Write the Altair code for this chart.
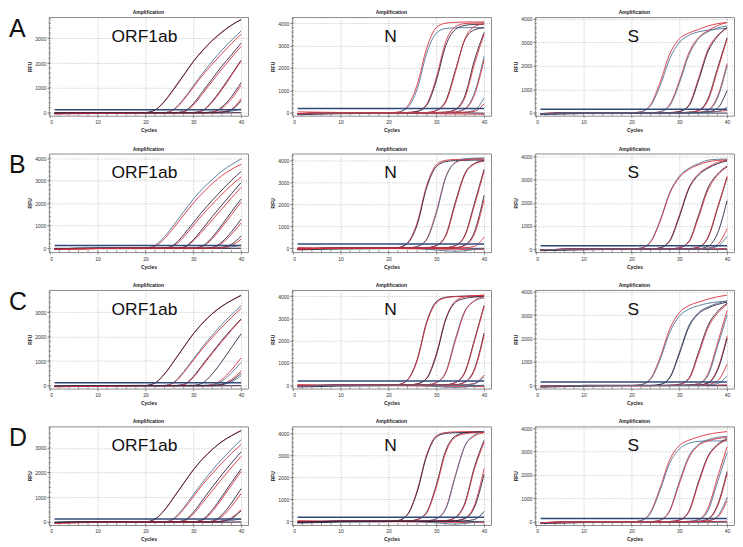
import altair as alt
import pandas as pd

# ---------------- data ----------------
CYCLES = [1, 10, 20, 22, 24, 26, 28, 30, 32, 34, 36, 38, 40]
ROW_LABELS = ["A", "B", "C", "D"]
GENES = ["ORF1ab", "N", "S"]
X_TICKS = [0, 10, 20, 30, 40]
Y_TICKS = [0, 1000, 2000, 3000, 4000]
MINOR_X = list(range(0, 42, 2))
MINOR_Y = list(range(-200, 4400, 200))

COLOR_KEYS = ["r", "d", "b", "p"]
COLOR_VALUES = ["#d8303e", "#2f2541", "#4f7496", "#e3909c"]
THRESH_COLOR = "#2f4a78"

THRESHOLDS = {"ORF1ab": [120, 120, 120, 120], "N": [185, 190, 190, 180], "S": [150, 150, 150, 150]}
Y_DOMAINS = {
    "ORF1ab": [(-120, 3850), (-170, 4200), (-120, 3900), (-120, 3870)],
    "N": [(-130, 4270), (-180, 4300), (-150, 4280), (-170, 4340)],
    "S": [(-120, 4080), (-130, 4140), (-130, 4070), (-130, 4070)],
}

ORF1AB_A = [
    ("p", [-70, -30, -10, -10, -5, 0, 0, -5, -10, -10, -5, 0, 10]),
    ("d", [-20, -20, -15, -15, -15, -15, -15, -15, -15, -10, -10, -5, 0]),
    ("b", [0, 0, 0, 0, 5, 10, 10, 10, 15, 20, 30, 60, 150]),
    ("r", [-40, -10, 0, 100, 450, 950, 1500, 2050, 2500, 2900, 3230, 3520, 3760]),
    ("d", [-20, 0, 10, 110, 470, 980, 1520, 2060, 2520, 2920, 3250, 3530, 3740]),
    ("b", [-10, 0, 0, 0, 10, 150, 560, 1080, 1600, 2080, 2520, 2920, 3290]),
    ("r", [-30, -10, 0, 0, 0, 120, 520, 1020, 1520, 1960, 2380, 2780, 3160]),
    ("d", [-20, 0, 0, 0, 0, 0, 50, 360, 860, 1370, 1880, 2330, 2800]),
    ("r", [-30, -10, 0, 0, 0, 0, 30, 300, 780, 1270, 1760, 2220, 2670]),
    ("d", [-20, 0, 0, 0, 0, 0, 0, 10, 100, 470, 980, 1540, 2110]),
    ("r", [-30, -10, 0, 0, 0, 0, 0, 0, 80, 430, 930, 1500, 2080]),
    ("d", [-20, 0, 0, 0, 0, 0, 0, 0, 0, 30, 230, 650, 1210]),
    ("r", [-30, -10, 0, 0, 0, 0, 0, 0, 0, 20, 180, 560, 1100]),
    ("r", [-40, -10, 0, 0, 0, 0, 0, 0, 0, 0, 30, 140, 560]),
    ("d", [-20, 0, 0, 0, 0, 0, 0, 0, 0, 0, 20, 110, 480]),
]
ORF1AB_B = [
    ("p", [-60, -20, -10, -10, -5, 0, 0, -5, -10, -10, -5, 0, 10]),
    ("d", [-20, -15, -15, -15, -15, -15, -15, -15, -15, -10, -10, -5, 0]),
    ("b", [0, 0, 0, 0, 5, 10, 10, 10, 15, 20, 30, 60, 140]),
    ("b", [-20, 0, 10, 130, 520, 1050, 1620, 2170, 2650, 3050, 3420, 3710, 3960]),
    ("r", [-40, -10, 0, 90, 430, 930, 1470, 2000, 2460, 2870, 3220, 3500, 3720]),
    ("d", [-20, 0, 0, 0, 10, 160, 600, 1130, 1650, 2130, 2580, 3010, 3400]),
    ("r", [-30, -10, 0, 0, 0, 120, 500, 1000, 1500, 1960, 2390, 2800, 3160]),
    ("d", [-20, 0, 0, 0, 0, 0, 50, 380, 880, 1410, 1920, 2420, 2910]),
    ("r", [-30, -10, 0, 0, 0, 0, 30, 320, 780, 1260, 1750, 2230, 2700]),
    ("d", [-20, 0, 0, 0, 0, 0, 0, 10, 110, 500, 1040, 1620, 2180]),
    ("r", [-30, -10, 0, 0, 0, 0, 0, 0, 80, 430, 940, 1490, 2040]),
    ("d", [-20, 0, 0, 0, 0, 0, 0, 0, 0, 40, 280, 730, 1290]),
    ("r", [-30, -10, 0, 0, 0, 0, 0, 0, 0, 20, 220, 620, 1120]),
    ("d", [-20, 0, 0, 0, 0, 0, 0, 0, 0, 0, 40, 180, 535]),
    ("r", [-40, -10, 0, 0, 0, 0, 0, 0, 0, 0, 20, 120, 400]),
]
ORF1AB_C = [
    ("p", [-60, -20, -10, -10, -5, 0, 0, -5, -10, -10, -5, 0, 10]),
    ("d", [-20, -15, -15, -15, -15, -15, -15, -15, -15, -10, -10, -5, 0]),
    ("b", [0, 0, 0, 0, 5, 10, 10, 10, 15, 20, 40, 150, 400]),
    ("r", [-40, -10, 0, 100, 470, 1000, 1560, 2100, 2550, 2930, 3230, 3480, 3690]),
    ("d", [-20, 0, 10, 110, 480, 1010, 1570, 2110, 2560, 2940, 3240, 3470, 3670]),
    ("b", [-10, 0, 0, 0, 10, 150, 570, 1080, 1590, 2060, 2500, 2890, 3260]),
    ("r", [-30, -10, 0, 0, 0, 120, 530, 1030, 1520, 1970, 2390, 2780, 3150]),
    ("d", [-20, 0, 0, 0, 0, 0, 50, 370, 870, 1360, 1850, 2300, 2720]),
    ("r", [-30, -10, 0, 0, 0, 0, 30, 330, 820, 1320, 1800, 2260, 2690]),
    ("d", [-20, 0, 0, 0, 0, 0, 0, 10, 110, 480, 990, 1550, 2110]),
    ("r", [-30, -10, 0, 0, 0, 0, 0, 0, 0, 40, 250, 640, 1130]),
    ("b", [-10, 0, 0, 0, 0, 0, 0, 0, 0, 20, 180, 520, 950]),
    ("r", [-40, -10, 0, 0, 0, 0, 0, 0, 0, 0, 60, 250, 600]),
    ("d", [-20, 0, 0, 0, 0, 0, 0, 0, 0, 0, 40, 200, 500]),
]
ORF1AB_D = [
    ("p", [-60, -20, -10, -10, -5, 0, 0, -5, -10, -10, -5, 0, 10]),
    ("d", [-20, -15, -15, -15, -15, -15, -15, -15, -15, -10, -10, -5, 0]),
    ("b", [0, 0, 0, 0, 5, 10, 10, 10, 15, 20, 30, 60, 130]),
    ("r", [-40, -10, 0, 110, 480, 1010, 1560, 2100, 2560, 2940, 3260, 3500, 3710]),
    ("d", [-20, 0, 10, 120, 490, 1020, 1570, 2110, 2560, 2940, 3250, 3490, 3690]),
    ("b", [-10, 0, 0, 0, 10, 160, 580, 1100, 1620, 2100, 2540, 2950, 3330]),
    ("r", [-30, -10, 0, 0, 0, 120, 520, 1020, 1520, 1970, 2390, 2780, 3140]),
    ("d", [-20, 0, 0, 0, 0, 0, 60, 390, 900, 1420, 1920, 2390, 2840]),
    ("r", [-30, -10, 0, 0, 0, 0, 30, 320, 790, 1270, 1750, 2210, 2650]),
    ("d", [-20, 0, 0, 0, 0, 0, 0, 10, 110, 500, 1030, 1600, 2150]),
    ("r", [-30, -10, 0, 0, 0, 0, 0, 0, 80, 430, 940, 1490, 2050]),
    ("d", [-20, 0, 0, 0, 0, 0, 0, 0, 0, 40, 290, 770, 1350]),
    ("r", [-30, -10, 0, 0, 0, 0, 0, 0, 0, 20, 220, 630, 1150]),
    ("r", [-40, -10, 0, 0, 0, 0, 0, 0, 0, 0, 40, 170, 500]),
    ("d", [-20, 0, 0, 0, 0, 0, 0, 0, 0, 0, 30, 140, 450]),
]

N_A = [
    ("r", [40, 10, -20, -20, -30, -30, -40, -40, -50, -50, -60, -60, -70]),
    ("d", [-90, -40, -20, -10, -10, -10, 0, 0, 0, 0, 0, -10, -20]),
    ("r", [-40, 0, 0, 30, 300, 1250, 2880, 3800, 4000, 4040, 4050, 4050, 4050]),
    ("b", [-60, -10, 0, 20, 230, 1050, 2650, 3550, 3760, 3790, 3800, 3800, 3800]),
    ("r", [-40, 0, 0, 0, 10, 70, 380, 1560, 3180, 3840, 3980, 4000, 4010]),
    ("d", [-60, -10, 0, 0, 10, 55, 330, 1420, 3000, 3720, 3900, 3940, 3950]),
    ("d", [-50, 0, 0, 0, 0, 0, 10, 100, 540, 1900, 3260, 3700, 3790]),
    ("r", [-40, 0, 0, 0, 0, 0, 10, 90, 480, 1820, 3300, 3850, 3970]),
    ("d", [-50, 0, 0, 0, 0, 0, 0, 10, 30, 150, 770, 2360, 3580]),
    ("r", [-40, 0, 0, 0, 0, 0, 0, 10, 25, 130, 670, 2180, 3500]),
    ("b", [-50, 0, 0, 0, 0, 0, 0, 0, 10, 40, 180, 900, 2520]),
    ("r", [-40, 0, 0, 0, 0, 0, 0, 0, 10, 30, 160, 800, 2360]),
    ("b", [-50, 0, 0, 0, 0, 0, 0, 0, 0, 10, 30, 120, 660]),
    ("r", [-40, 0, 0, 0, 0, 0, 0, 0, 0, 0, 20, 60, 400]),
]
N_B = [
    ("r", [30, 0, -20, -20, -30, -30, -40, -40, -50, -50, -60, -60, -60]),
    ("d", [-80, -40, -20, -10, -10, -10, 0, 0, 0, 0, 0, -10, -10]),
    ("b", [-20, 0, 0, 0, 0, -20, -50, -90, -120, -140, -120, -60, 0]),
    ("r", [-40, 0, 0, 25, 250, 1150, 2850, 3780, 3990, 4030, 4040, 4050, 4050]),
    ("d", [-60, -10, 0, 20, 220, 1050, 2750, 3700, 3930, 3980, 3990, 4000, 4000]),
    ("r", [-40, 0, 0, 0, 10, 80, 420, 1650, 3250, 3880, 4020, 4050, 4060]),
    ("b", [-60, -10, 0, 0, 10, 70, 380, 1560, 3200, 3900, 4060, 4090, 4100]),
    ("d", [-50, 0, 0, 0, 0, 0, 20, 120, 600, 2100, 3400, 3850, 3980]),
    ("r", [-40, 0, 0, 0, 0, 0, 15, 110, 550, 2000, 3350, 3820, 3950]),
    ("d", [-50, 0, 0, 0, 0, 0, 0, 0, 20, 120, 600, 2050, 3580]),
    ("r", [-40, 0, 0, 0, 0, 0, 0, 0, 15, 110, 560, 1950, 3500]),
    ("d", [-50, 0, 0, 0, 0, 0, 0, 0, 0, 20, 150, 750, 2400]),
    ("r", [-40, 0, 0, 0, 0, 0, 0, 0, 0, 15, 120, 650, 2200]),
    ("r", [-40, 0, 0, 0, 0, 0, 0, 0, 0, 0, 20, 80, 500]),
]
N_C = [
    ("r", [30, 0, -20, -20, -30, -30, -40, -40, -50, -50, -60, -60, -60]),
    ("d", [-80, -40, -20, -10, -10, -10, 0, 0, 0, 0, 0, -10, -10]),
    ("b", [-20, 0, 0, 0, 0, -10, -30, -60, -90, -100, -80, -40, 0]),
    ("d", [-60, -10, 0, 25, 250, 1150, 2850, 3750, 3950, 3990, 4000, 4000, 4000]),
    ("r", [-40, 0, 0, 20, 230, 1100, 2780, 3700, 3930, 3980, 4000, 4020, 4040]),
    ("r", [-40, 0, 0, 0, 10, 60, 320, 1400, 3000, 3780, 3970, 4020, 4050]),
    ("d", [-60, -10, 0, 0, 10, 55, 300, 1330, 2950, 3720, 3900, 3960, 3980]),
    ("b", [-50, 0, 0, 0, 0, 0, 20, 120, 600, 2100, 3350, 3780, 3920]),
    ("r", [-40, 0, 0, 0, 0, 0, 15, 110, 560, 2000, 3300, 3800, 3980]),
    ("d", [-50, 0, 0, 0, 0, 0, 0, 0, 20, 120, 600, 2050, 3580]),
    ("r", [-40, 0, 0, 0, 0, 0, 0, 0, 15, 110, 570, 1980, 3550]),
    ("d", [-50, 0, 0, 0, 0, 0, 0, 0, 0, 20, 150, 730, 2350]),
    ("r", [-40, 0, 0, 0, 0, 0, 0, 0, 0, 15, 130, 680, 2250]),
    ("r", [-40, 0, 0, 0, 0, 0, 0, 0, 0, 0, 20, 80, 450]),
    ("b", [-50, 0, 0, 0, 0, 0, 0, 0, 0, 0, 15, 60, 380]),
]
N_D = [
    ("r", [30, 0, -20, -20, -30, -30, -40, -40, -50, -50, -60, -60, -60]),
    ("d", [-80, -40, -20, -10, -10, -10, 0, 0, 0, 0, 0, -10, -10]),
    ("b", [-20, 0, 0, 0, 0, -20, -40, -70, -110, -130, -100, -40, 0]),
    ("r", [-40, 0, 0, 35, 330, 1400, 3050, 3900, 4060, 4090, 4100, 4100, 4100]),
    ("d", [-60, -10, 0, 30, 300, 1330, 2980, 3850, 4020, 4050, 4060, 4070, 4080]),
    ("d", [-60, -10, 0, 0, 10, 80, 420, 1650, 3250, 3900, 4050, 4080, 4100]),
    ("r", [-40, 0, 0, 0, 10, 70, 380, 1560, 3150, 3850, 4000, 4050, 4060]),
    ("r", [-40, 0, 0, 0, 0, 0, 20, 120, 600, 2100, 3450, 3900, 4050]),
    ("b", [-50, 0, 0, 0, 0, 0, 15, 110, 560, 2050, 3450, 3950, 4120]),
    ("d", [-50, 0, 0, 0, 0, 0, 0, 10, 30, 180, 850, 2500, 3700]),
    ("r", [-40, 0, 0, 0, 0, 0, 0, 10, 25, 160, 780, 2400, 3600]),
    ("r", [-40, 0, 0, 0, 0, 0, 0, 0, 10, 30, 150, 750, 2400]),
    ("d", [-50, 0, 0, 0, 0, 0, 0, 0, 10, 25, 120, 640, 2150]),
    ("d", [-50, 0, 0, 0, 0, 0, 0, 0, 0, 0, 20, 80, 450]),
]

S_A = [
    ("r", [-60, -20, -20, -20, -20, -10, -10, 0, 10, 20, 40, 60, 100]),
    ("d", [-70, -30, -10, -10, -10, -10, -10, -10, -10, -10, -10, -10, -10]),
    ("r", [-30, 0, 0, 50, 350, 1300, 2500, 3150, 3400, 3550, 3700, 3800, 3850]),
    ("b", [-50, -10, 0, 40, 300, 1150, 2300, 3000, 3300, 3450, 3520, 3570, 3600]),
    ("r", [-30, 0, 0, 0, 0, 50, 350, 1350, 2550, 3200, 3500, 3720, 3850]),
    ("b", [-40, -10, 0, 0, 0, 40, 300, 1250, 2450, 3150, 3450, 3620, 3700]),
    ("r", [-30, 0, 0, 0, 0, 0, 10, 60, 330, 1450, 2700, 3300, 3600]),
    ("d", [-40, 0, 0, 0, 0, 0, 10, 50, 290, 1350, 2600, 3250, 3650]),
    ("d", [-30, 0, 0, 0, 0, 0, 0, 10, 30, 100, 600, 1900, 3200]),
    ("r", [-30, 0, 0, 0, 0, 0, 0, 0, 20, 80, 520, 1800, 3150]),
    ("r", [-30, 0, 0, 0, 0, 0, 0, 0, 10, 20, 120, 700, 2100]),
    ("b", [-40, 0, 0, 0, 0, 0, 0, 0, 10, 15, 100, 620, 2000]),
    ("d", [-40, 0, 0, 0, 0, 0, 0, 0, 0, 10, 40, 200, 950]),
    ("b", [-40, 0, 0, 0, 0, 0, 0, 0, 0, 0, 20, 60, 250]),
]
S_B = [
    ("r", [-60, -20, -20, -20, -20, -10, -10, 0, 0, 10, 10, 20, 30]),
    ("d", [-70, -30, -10, -10, -10, -10, -10, -10, -10, -10, -10, -10, -10]),
    ("b", [-40, 0, 0, 50, 330, 1250, 2450, 3150, 3500, 3700, 3850, 3890, 3900]),
    ("r", [-30, 0, 0, 40, 300, 1200, 2400, 3100, 3450, 3650, 3780, 3840, 3860]),
    ("r", [-30, 0, 0, 0, 0, 60, 380, 1450, 2650, 3250, 3550, 3750, 3850]),
    ("d", [-40, 0, 0, 0, 0, 50, 340, 1380, 2600, 3200, 3500, 3700, 3820]),
    ("d", [-40, 0, 0, 0, 0, 0, 10, 60, 330, 1450, 2650, 3250, 3600]),
    ("r", [-30, 0, 0, 0, 0, 0, 10, 50, 300, 1350, 2550, 3200, 3550]),
    ("d", [-40, 0, 0, 0, 0, 0, 0, 10, 20, 80, 480, 1750, 3100]),
    ("r", [-30, 0, 0, 0, 0, 0, 0, 10, 20, 90, 520, 1800, 3150]),
    ("d", [-40, 0, 0, 0, 0, 0, 0, 0, 10, 20, 120, 680, 2100]),
    ("r", [-30, 0, 0, 0, 0, 0, 0, 0, 0, 10, 40, 200, 880]),
    ("b", [-40, 0, 0, 0, 0, 0, 0, 0, 0, 0, 30, 120, 550]),
]
S_C = [
    ("r", [-60, -20, -20, -20, -20, -10, -10, 0, 0, 10, 10, 20, 30]),
    ("d", [-70, -30, -10, -10, -10, -10, -10, -10, -10, -10, -10, -10, -10]),
    ("r", [-30, 0, 0, 40, 300, 1200, 2400, 3100, 3400, 3550, 3680, 3780, 3850]),
    ("b", [-50, -10, 0, 30, 260, 1100, 2250, 2950, 3250, 3400, 3500, 3560, 3600]),
    ("b", [-40, 0, 0, 0, 0, 50, 350, 1400, 2550, 3100, 3350, 3500, 3600]),
    ("d", [-40, 0, 0, 0, 0, 40, 320, 1330, 2480, 3050, 3300, 3450, 3550]),
    ("d", [-40, 0, 0, 0, 0, 0, 10, 50, 300, 1400, 2550, 3150, 3500]),
    ("r", [-30, 0, 0, 0, 0, 0, 10, 40, 270, 1300, 2450, 3080, 3450]),
    ("r", [-30, 0, 0, 0, 0, 0, 0, 10, 20, 80, 500, 1800, 3200]),
    ("b", [-40, 0, 0, 0, 0, 0, 0, 10, 20, 60, 420, 1650, 3000]),
    ("r", [-30, 0, 0, 0, 0, 0, 0, 0, 10, 20, 120, 700, 2100]),
    ("d", [-40, 0, 0, 0, 0, 0, 0, 0, 10, 15, 100, 640, 2000]),
    ("r", [-30, 0, 0, 0, 0, 0, 0, 0, 0, 10, 40, 200, 900]),
    ("b", [-40, 0, 0, 0, 0, 0, 0, 0, 0, 0, 20, 80, 400]),
]
S_D = [
    ("r", [-60, -20, -20, -20, -20, -10, -10, 0, 0, 10, 10, 20, 30]),
    ("d", [-70, -30, -10, -10, -10, -10, -10, -10, -10, -10, -10, -10, -10]),
    ("r", [-30, 0, 0, 60, 420, 1450, 2650, 3250, 3480, 3620, 3730, 3800, 3850]),
    ("b", [-50, -10, 0, 50, 380, 1350, 2500, 3100, 3350, 3430, 3450, 3450, 3450]),
    ("b", [-40, 0, 0, 0, 10, 80, 500, 1700, 2800, 3300, 3500, 3600, 3650]),
    ("r", [-30, 0, 0, 0, 10, 70, 460, 1620, 2720, 3250, 3450, 3550, 3600]),
    ("d", [-40, 0, 0, 0, 0, 0, 20, 80, 450, 1700, 2800, 3300, 3550]),
    ("r", [-30, 0, 0, 0, 0, 0, 15, 70, 420, 1620, 2750, 3250, 3500]),
    ("r", [-30, 0, 0, 0, 0, 0, 0, 10, 25, 100, 580, 1900, 3200]),
    ("b", [-40, 0, 0, 0, 0, 0, 0, 10, 20, 80, 470, 1700, 2950]),
    ("d", [-40, 0, 0, 0, 0, 0, 0, 0, 10, 25, 130, 720, 2150]),
    ("r", [-30, 0, 0, 0, 0, 0, 0, 0, 10, 20, 110, 660, 2050]),
    ("b", [-40, 0, 0, 0, 0, 0, 0, 0, 0, 10, 50, 250, 1050]),
    ("r", [-30, 0, 0, 0, 0, 0, 0, 0, 0, 10, 40, 200, 900]),
]

DATA = {
    "ORF1ab": [ORF1AB_A, ORF1AB_B, ORF1AB_C, ORF1AB_D],
    "N": [N_A, N_B, N_C, N_D],
    "S": [S_A, S_B, S_C, S_D],
}

# ---------------- layout / style ----------------
PLOT_W, PLOT_H = 200, 99
X_DOMAIN = [-0.2, 41.45]
GENE_X = {"ORF1ab": 96, "N": 99, "S": 99}
FONT = "Liberation Sans"


def make_panel(ri, gene):
    recs = []
    for k, (ck, vals) in enumerate(DATA[gene][ri]):
        for cyc, v in zip(CYCLES, vals):
            recs.append({"curve": k, "col": ck, "cycle": cyc, "rfu": v})
    df = pd.DataFrame(recs)
    lo, hi = Y_DOMAINS[gene][ri]
    yvals = [t for t in Y_TICKS if lo <= t <= hi]
    xs = alt.Scale(domain=X_DOMAIN, nice=False, zero=False)
    ys = alt.Scale(domain=[lo, hi], nice=False, zero=False)
    xax = alt.Axis(values=X_TICKS, title="Cycles", format="d", labelOverlap=False)
    yax = alt.Axis(values=yvals, title="RFU", format="d", labelOverlap=False)

    lines = alt.Chart(df).mark_line(strokeWidth=0.9, interpolate="monotone", clip=True).encode(
        x=alt.X("cycle:Q", scale=xs, axis=xax),
        y=alt.Y("rfu:Q", scale=ys, axis=yax),
        detail="curve:N",
        color=alt.Color("col:N", scale=alt.Scale(domain=COLOR_KEYS, range=COLOR_VALUES), legend=None),
    )
    th = THRESHOLDS[gene][ri]
    tdf = pd.DataFrame({"cycle": [1, 40], "rfu": [th, th]})
    thr = alt.Chart(tdf).mark_line(color=THRESH_COLOR, strokeWidth=1.5, clip=True).encode(
        x=alt.X("cycle:Q", scale=xs, axis=xax), y=alt.Y("rfu:Q", scale=ys, axis=yax)
    )
    # minor ticks drawn inside the frame
    mx = pd.DataFrame({"cycle": MINOR_X})
    minor_x = alt.Chart(mx).mark_rule(color="#555", strokeWidth=0.6).encode(
        x=alt.X("cycle:Q", scale=xs, axis=xax), y=alt.value(PLOT_H - 2), y2=alt.value(PLOT_H)
    )
    my = pd.DataFrame({"rfu": [v for v in MINOR_Y if lo < v < hi]})
    minor_y = alt.Chart(my).mark_rule(color="#555", strokeWidth=0.6).encode(
        y=alt.Y("rfu:Q", scale=ys, axis=yax), x=alt.value(0), x2=alt.value(2)
    )
    gtxt = alt.Chart(pd.DataFrame({"t": [gene]})).mark_text(
        fontSize=17.5, font=FONT, align="center", baseline="middle", color="#111"
    ).encode(x=alt.value(GENE_X[gene]), y=alt.value(20), text="t:N")
    layers = [minor_x, minor_y, lines, thr, gtxt]
    if gene == "ORF1ab":
        ltxt = alt.Chart(pd.DataFrame({"t": [ROW_LABELS[ri]]})).mark_text(
            fontSize=25, font=FONT, align="left", baseline="middle", color="#111"
        ).encode(x=alt.value(-40), y=alt.value(12), text="t:N")
        layers.append(ltxt)
    return alt.layer(*layers).properties(
        width=PLOT_W,
        height=PLOT_H,
        title=alt.TitleParams("Amplification", fontSize=5, fontWeight="bold", offset=2,
                              anchor="middle", font=FONT, color="#222"),
    )


rows = [alt.hconcat(*[make_panel(ri, g) for g in GENES], spacing=21) for ri in range(4)]
chart = alt.vconcat(*rows, spacing=12, padding={"left": 0, "top": 0, "right": 0, "bottom": 0}).configure_view(
    stroke="#8a8a8a", strokeWidth=1
).configure_axis(
    domain=False,
    labelFont=FONT, labelFontSize=5, labelColor="#333",
    titleFont=FONT, titleFontSize=5, titleFontWeight="bold", titleColor="#222",
    tickSize=2, tickColor="#555", tickWidth=0.7,
    gridColor="#a8a8a8", gridDash=[1, 1.5], gridWidth=0.7,
).configure_axisX(labelPadding=2, titlePadding=3).configure_axisY(labelPadding=1, titlePadding=2)

chart.save("out.html", embed_options={"renderer": "svg", "actions": False})
